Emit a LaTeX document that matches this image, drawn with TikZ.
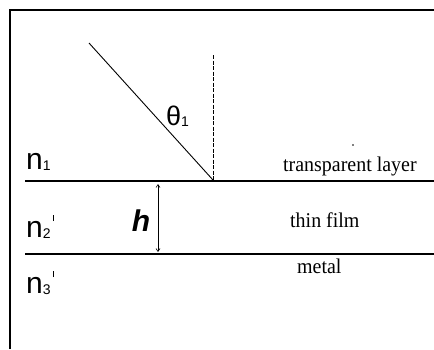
\documentclass[tikz,border=0pt]{standalone}
\usepackage{fontspec}
\setmainfont{Liberation Serif}
\newfontfamily\arialf{Liberation Sans}
\usetikzlibrary{arrows.meta}
\newcommand{\subsc}[1]{\raisebox{-1.5pt}{\fontsize{14}{14}\selectfont #1}}
\newcommand{\prm}{\hspace{2pt}\rule[16pt]{1.2pt}{6pt}}
\begin{document}
\begin{tikzpicture}[x=1pt,y=-1pt,
  layer/.style={line width=2pt},
  lbl/.style={font=\arialf\fontsize{30}{30}\selectfont, anchor=base west, inner sep=0},
  side/.style={font=\fontsize{21}{21}\selectfont, anchor=base west, inner sep=0, xscale=0.95}]
\useasboundingbox (0,0) rectangle (434,349);
\fill[white] (0,0) rectangle (434,349);
% frame
\draw[line width=1.3pt] (10,349) -- (10,10) -- (434,10);
% interfaces
\coordinate (l1a) at (25,181); \coordinate (l1b) at (434,181);
\coordinate (l2a) at (25,254); \coordinate (l2b) at (434,254);
\draw[layer] (l1a) -- (l1b);
\draw[line width=1.4pt] (l2a) -- (l2b);
% ray
\coordinate (src) at (89,43);
\coordinate (hit) at (213,180);
\coordinate (ntop) at (213,55);
\draw[line width=0.9pt] (src) -- (hit);
\draw[line width=0.8pt, dashed, dash pattern=on 4pt off 1.5pt] (ntop) -- (hit);
\node[font=\arialf\fontsize{27}{27}\selectfont, inner sep=0, anchor=base west] (theta) at (166,125) {θ\subsc{1}};
% thickness arrow
\coordinate (ht) at (158,184);
\coordinate (hb) at (158,252);
\draw[line width=0.6pt, {Straight Barb[length=3pt,width=4pt]}-{Straight Barb[length=3pt,width=4pt]}] (ht) -- (hb);
\node[font=\arialf\bfseries\itshape\fontsize{30}{30}\selectfont, inner sep=0, anchor=base] (h) at (141,231) {h};
% layer labels
\node[lbl] (n1) at (26,169) {n\subsc{1}};
\node[lbl] (n2) at (26,237) {n\subsc{2}\prm};
\node[lbl] (n3) at (26,293) {n\subsc{3}\prm};
\node[side] (tl) at (283,171) {transparent layer};
\node[side] (tf) at (290,227) {thin film};
\node[side] (mt) at (297,273) {metal};
\fill (353,145) circle (0.9pt);
\end{tikzpicture}
\end{document}
